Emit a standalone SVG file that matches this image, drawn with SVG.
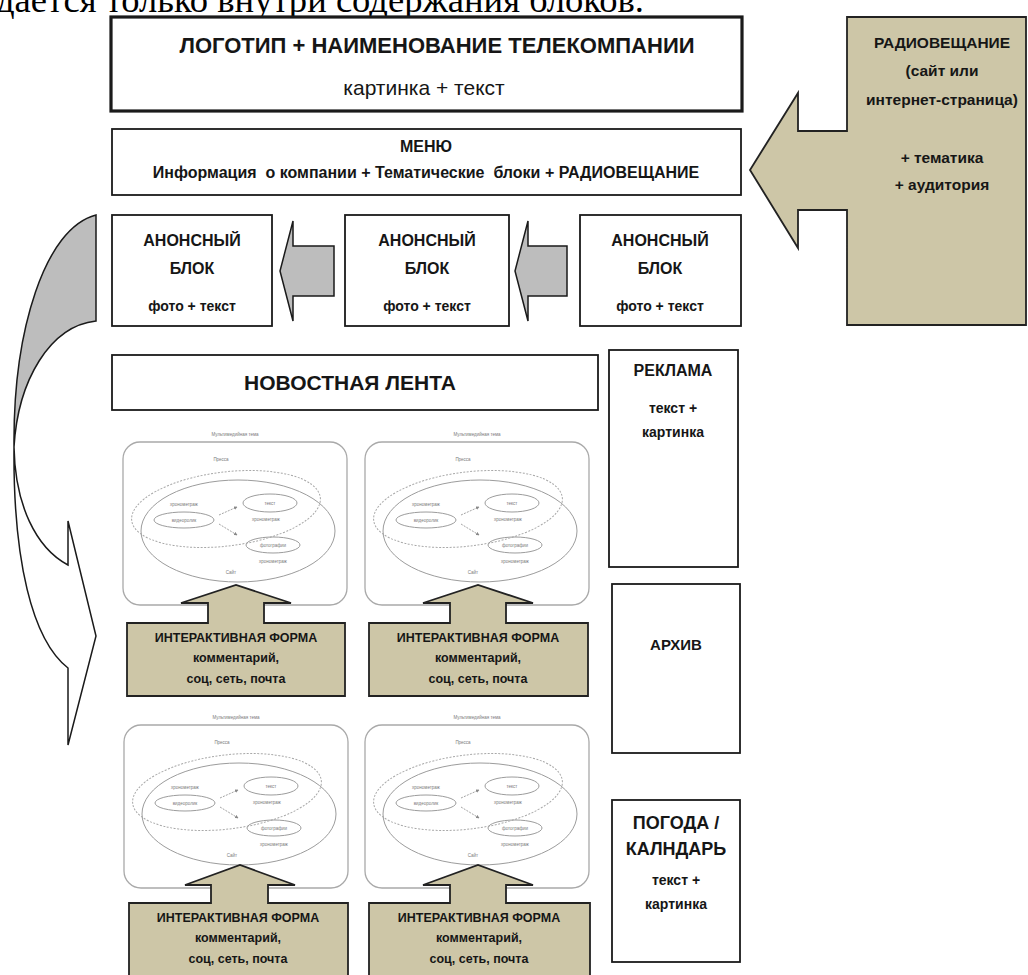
<svg xmlns="http://www.w3.org/2000/svg" width="1028" height="975" viewBox="0 0 1028 975">
<defs>
<style>
.box{fill:#fff;stroke:#1a1a1a;stroke-width:1.8}
.thick{fill:#fff;stroke:#1a1a1a;stroke-width:3.2}
.tan{fill:#cdc6a7;stroke:#222;stroke-width:1.8;stroke-linejoin:miter}
.gray{fill:#bdbdbd;stroke:#1a1a1a;stroke-width:1.5}
.wht{fill:#fff;stroke:#1a1a1a;stroke-width:1.5}
.t{font-family:"Liberation Sans",Arial,sans-serif;fill:#161616;text-anchor:middle}
.b{font-weight:bold}
.mmf{fill:#fff;stroke:#a9a9a9;stroke-width:1.3}
.mme{fill:none;stroke:#9c9c9c;stroke-width:1}
.mmd{fill:none;stroke:#a8a8a8;stroke-width:1;stroke-dasharray:2 1.5}
.mmt{font-family:"Liberation Sans",Arial,sans-serif;font-size:4.5px;fill:#7a7a7a;text-anchor:middle}
.mma{stroke:#999;stroke-width:0.9;stroke-dasharray:2 1.2;fill:none}
</style>
<marker id="ah" viewBox="0 0 6 6" refX="5" refY="3" markerWidth="4" markerHeight="4" orient="auto">
<path d="M0,0 L6,3 L0,6 Z" fill="#888"/>
</marker>
</defs>

<text x="-4" y="12" font-family="Liberation Serif, Times New Roman, serif" font-size="36.6" fill="#000">дается только внутри содержания блоков.</text>

<g id="connectors">
<path id="curved-arrow-back" class="gray" d="M96,215 C45,228 13,330 14,447 C18,380 50,326 96,321 Z"/>
<path id="curved-arrow-front" class="wht" d="M14,447 C15,505 36,548 68,565 L68,521 L96,636 L68,745 L68,668 C32,640 13,560 14,447 Z"/>
<polygon id="arrow-a2-a1" class="gray" points="334,246 293,246 293,221 280,271 293,321 293,296 334,296"/>
<polygon id="arrow-a3-a2" class="gray" points="567,246 528,246 528,221 515,271 528,321 528,296 567,296"/>
</g>

<g id="logo">
<rect class="thick" x="111" y="17" width="631" height="94"/>
<text class="t b" x="437" y="53" font-size="22">ЛОГОТИП + НАИМЕНОВАНИЕ ТЕЛЕКОМПАНИИ</text>
<text class="t" x="424" y="95" font-size="21">картинка + текст</text>
</g>

<g id="menu">
<rect class="box" x="112" y="129" width="629" height="66"/>
<text class="t b" x="426" y="152" font-size="16">МЕНЮ</text>
<text class="t b" x="426" y="178" font-size="16" xml:space="preserve">Информация  о компании + Тематические  блоки + РАДИОВЕЩАНИЕ</text>
</g>

<g id="radio">
<polygon class="tan" points="847,17 1026,17 1026,325 847,325 847,210 798,210 798,248 750,170 798,93 798,131 847,131"/>
<text class="t b" x="942" y="48" font-size="15.5">РАДИОВЕЩАНИЕ</text>
<text class="t b" x="942" y="76" font-size="15.5">(сайт или</text>
<text class="t b" x="942" y="105" font-size="15.5">интернет-страница)</text>
<text class="t b" x="942" y="163" font-size="15.5">+ тематика</text>
<text class="t b" x="942" y="190" font-size="15.5">+ аудитория</text>
</g>

<g id="anons1">
<rect class="box" x="112" y="215" width="160" height="111"/>
<text class="t b" x="192" y="246" font-size="16">АНОНСНЫЙ</text>
<text class="t b" x="192" y="274" font-size="16">БЛОК</text>
<text class="t b" x="192" y="311" font-size="14">фото + текст</text>
</g>
<g id="anons2">
<rect class="box" x="345" y="215" width="164" height="111"/>
<text class="t b" x="427" y="246" font-size="16">АНОНСНЫЙ</text>
<text class="t b" x="427" y="274" font-size="16">БЛОК</text>
<text class="t b" x="427" y="311" font-size="14">фото + текст</text>
</g>
<g id="anons3">
<rect class="box" x="580" y="215" width="161" height="111"/>
<text class="t b" x="660" y="246" font-size="16">АНОНСНЫЙ</text>
<text class="t b" x="660" y="274" font-size="16">БЛОК</text>
<text class="t b" x="660" y="311" font-size="14">фото + текст</text>
</g>

<g id="news">
<rect class="box" x="112" y="355" width="486" height="55"/>
<text class="t b" x="350" y="390" font-size="21">НОВОСТНАЯ ЛЕНТА</text>
</g>

<g id="ads">
<rect class="box" x="609" y="350" width="129" height="217"/>
<text class="t b" x="673" y="376" font-size="16">РЕКЛАМА</text>
<text class="t b" x="673" y="413" font-size="14">текст +</text>
<text class="t b" x="673" y="437" font-size="14">картинка</text>
</g>

<g id="archive">
<rect class="box" x="612" y="584" width="128" height="169"/>
<text class="t b" x="676" y="650" font-size="15">АРХИВ</text>
</g>

<g id="weather">
<rect class="box" x="612" y="800" width="128" height="162"/>
<text class="t b" x="676" y="829" font-size="18">ПОГОДА /</text>
<text class="t b" x="676" y="855" font-size="18">КАЛНДАРЬ</text>
<text class="t b" x="676" y="885" font-size="14">текст +</text>
<text class="t b" x="676" y="909" font-size="14">картинка</text>
</g>

<g id="mm1" transform="translate(123,442)">
<text class="mmt" x="112" y="-6">Мультимедийная тема</text>
<rect class="mmf" x="0" y="0" width="224" height="163" rx="17"/>
<text class="mmt" x="98" y="19">Пресса</text>
<ellipse class="mmd" cx="103" cy="67" rx="95" ry="37" transform="rotate(-7 103 67)"/>
<ellipse class="mme" cx="115" cy="89" rx="97" ry="51"/>
<text class="mmt" x="61" y="64">хронометраж</text>
<ellipse class="mme" cx="61" cy="78" rx="30" ry="8"/>
<text class="mmt" x="61" y="79.5">видеоролик</text>
<ellipse class="mme" cx="147" cy="61" rx="27" ry="9"/>
<text class="mmt" x="147" y="62.5">текст</text>
<text class="mmt" x="143" y="79">хронометраж</text>
<ellipse class="mme" cx="150" cy="103" rx="27" ry="8"/>
<text class="mmt" x="150" y="104.5">фотографии</text>
<text class="mmt" x="150" y="121">хронометраж</text>
<text class="mmt" x="108" y="132">Сайт</text>
<line class="mma" x1="96" y1="73" x2="114" y2="65" marker-end="url(#ah)"/>
<line class="mma" x1="96" y1="82" x2="114" y2="93" marker-end="url(#ah)"/>
</g>
<g id="mm2" transform="translate(365,442)">
<text class="mmt" x="112" y="-6">Мультимедийная тема</text>
<rect class="mmf" x="0" y="0" width="224" height="163" rx="17"/>
<text class="mmt" x="98" y="19">Пресса</text>
<ellipse class="mmd" cx="103" cy="67" rx="95" ry="37" transform="rotate(-7 103 67)"/>
<ellipse class="mme" cx="115" cy="89" rx="97" ry="51"/>
<text class="mmt" x="61" y="64">хронометраж</text>
<ellipse class="mme" cx="61" cy="78" rx="30" ry="8"/>
<text class="mmt" x="61" y="79.5">видеоролик</text>
<ellipse class="mme" cx="147" cy="61" rx="27" ry="9"/>
<text class="mmt" x="147" y="62.5">текст</text>
<text class="mmt" x="143" y="79">хронометраж</text>
<ellipse class="mme" cx="150" cy="103" rx="27" ry="8"/>
<text class="mmt" x="150" y="104.5">фотографии</text>
<text class="mmt" x="150" y="121">хронометраж</text>
<text class="mmt" x="108" y="132">Сайт</text>
<line class="mma" x1="96" y1="73" x2="114" y2="65" marker-end="url(#ah)"/>
<line class="mma" x1="96" y1="82" x2="114" y2="93" marker-end="url(#ah)"/>
</g>
<g id="mm3" transform="translate(124,725)">
<text class="mmt" x="112" y="-6">Мультимедийная тема</text>
<rect class="mmf" x="0" y="0" width="224" height="163" rx="17"/>
<text class="mmt" x="98" y="19">Пресса</text>
<ellipse class="mmd" cx="103" cy="67" rx="95" ry="37" transform="rotate(-7 103 67)"/>
<ellipse class="mme" cx="115" cy="89" rx="97" ry="51"/>
<text class="mmt" x="61" y="64">хронометраж</text>
<ellipse class="mme" cx="61" cy="78" rx="30" ry="8"/>
<text class="mmt" x="61" y="79.5">видеоролик</text>
<ellipse class="mme" cx="147" cy="61" rx="27" ry="9"/>
<text class="mmt" x="147" y="62.5">текст</text>
<text class="mmt" x="143" y="79">хронометраж</text>
<ellipse class="mme" cx="150" cy="103" rx="27" ry="8"/>
<text class="mmt" x="150" y="104.5">фотографии</text>
<text class="mmt" x="150" y="121">хронометраж</text>
<text class="mmt" x="108" y="132">Сайт</text>
<line class="mma" x1="96" y1="73" x2="114" y2="65" marker-end="url(#ah)"/>
<line class="mma" x1="96" y1="82" x2="114" y2="93" marker-end="url(#ah)"/>
</g>
<g id="mm4" transform="translate(365,725)">
<text class="mmt" x="112" y="-6">Мультимедийная тема</text>
<rect class="mmf" x="0" y="0" width="224" height="163" rx="17"/>
<text class="mmt" x="98" y="19">Пресса</text>
<ellipse class="mmd" cx="103" cy="67" rx="95" ry="37" transform="rotate(-7 103 67)"/>
<ellipse class="mme" cx="115" cy="89" rx="97" ry="51"/>
<text class="mmt" x="61" y="64">хронометраж</text>
<ellipse class="mme" cx="61" cy="78" rx="30" ry="8"/>
<text class="mmt" x="61" y="79.5">видеоролик</text>
<ellipse class="mme" cx="147" cy="61" rx="27" ry="9"/>
<text class="mmt" x="147" y="62.5">текст</text>
<text class="mmt" x="143" y="79">хронометраж</text>
<ellipse class="mme" cx="150" cy="103" rx="27" ry="8"/>
<text class="mmt" x="150" y="104.5">фотографии</text>
<text class="mmt" x="150" y="121">хронометраж</text>
<text class="mmt" x="108" y="132">Сайт</text>
<line class="mma" x1="96" y1="73" x2="114" y2="65" marker-end="url(#ah)"/>
<line class="mma" x1="96" y1="82" x2="114" y2="93" marker-end="url(#ah)"/>
</g>

<g id="form1">
<polygon class="tan" points="127,623 208,623 208,603 181,603 236,585 291,603 264,603 264,623 345,623 345,696 127,696"/>
<text class="t b" x="236" y="642" font-size="12.5">ИНТЕРАКТИВНАЯ ФОРМА</text>
<text class="t b" x="236" y="662" font-size="12.5">комментарий,</text>
<text class="t b" x="236" y="683" font-size="12.5">соц, сеть, почта</text>
</g>
<g id="form2">
<polygon class="tan" points="369,623 450,623 450,603 423,603 478,585 533,603 506,603 506,623 588,623 588,696 369,696"/>
<text class="t b" x="478" y="642" font-size="12.5">ИНТЕРАКТИВНАЯ ФОРМА</text>
<text class="t b" x="478" y="662" font-size="12.5">комментарий,</text>
<text class="t b" x="478" y="683" font-size="12.5">соц, сеть, почта</text>
</g>
<g id="form3">
<polygon class="tan" points="129,903 211,903 211,885 185,885 240,865 295,885 268,885 268,903 348,903 348,990 129,990"/>
<text class="t b" x="238" y="922" font-size="12.5">ИНТЕРАКТИВНАЯ ФОРМА</text>
<text class="t b" x="238" y="942" font-size="12.5">комментарий,</text>
<text class="t b" x="238" y="963" font-size="12.5">соц, сеть, почта</text>
</g>
<g id="form4">
<polygon class="tan" points="369,903 450,903 450,885 423,885 478,865 533,885 506,885 506,903 590,903 590,990 369,990"/>
<text class="t b" x="479" y="922" font-size="12.5">ИНТЕРАКТИВНАЯ ФОРМА</text>
<text class="t b" x="479" y="942" font-size="12.5">комментарий,</text>
<text class="t b" x="479" y="963" font-size="12.5">соц, сеть, почта</text>
</g>
</svg>
